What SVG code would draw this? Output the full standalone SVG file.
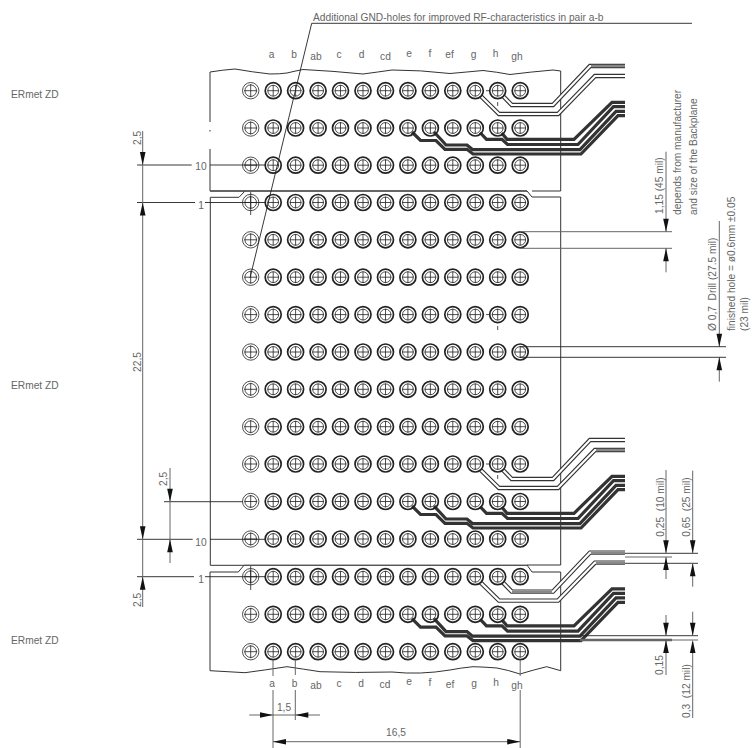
<svg xmlns="http://www.w3.org/2000/svg" width="754" height="748" viewBox="0 0 754 748">
<style>
text{font-family:"Liberation Sans",Arial,sans-serif;font-size:10.2px;fill:#666}
.m{text-anchor:middle}
.l{fill:none;stroke:#222;stroke-width:.9}
.g{fill:none;stroke:#666;stroke-width:1}
.o{fill:none;stroke:#333;stroke-width:1}
.t{fill:none;stroke:#222;stroke-width:1.7}
.i{fill:none;stroke:#222;stroke-width:.8}
.d{fill:none;stroke:#333;stroke-width:3.2;stroke-linejoin:miter}
.w1{fill:none;stroke:#333;stroke-width:4.4}
.w2{fill:none;stroke:#fff;stroke-width:2.2}
.w3{fill:none;stroke:#888;stroke-width:2.6}
.a{fill:#111}
</style>
<defs>
<g id="h0"><circle r="8.200" class="i"/><circle r="5.800" class="i"/><path d="M-6.500 0H6.500M0-6.500V6.500" class="i"/></g>
<g id="h1"><circle r="8" class="t"/><circle r="5.400" class="i"/><path d="M-5.800 0H5.800M0-5.800V5.800" class="i"/></g>
<g id="row">
<use href="#h0" x="250.700"/><use href="#h1" x="273.200"/><use href="#h1" x="295.600"/><use href="#h1" x="318.100"/><use href="#h1" x="340.500"/><use href="#h1" x="363"/><use href="#h1" x="385.500"/><use href="#h1" x="407.900"/><use href="#h1" x="430.400"/><use href="#h1" x="452.800"/><use href="#h1" x="475.300"/><use href="#h1" x="497.700"/><use href="#h1" x="520.200"/>
</g>
<g id="pale">
<path class="w1" d="M503 96L511.700 105H553L590 66H625"/><path class="w1" d="M480.700 96L499 114H558L595 76H625"/>
<path class="w2" d="M503 96L511.700 105H553L590 66H625"/><path class="w2" d="M480.700 96L499 114H558L595 76H625"/>
</g>
<g id="dark">
<path class="d" d="M501.700 133L507 139.300H574L612 102.300H625"/>
<path class="d" d="M480 132.500L486.500 139.300H502L507.500 144.500H578L613.500 106.700H625"/>
<path class="d" d="M434 132L441.500 140L446 145H467L472.500 149.600H580L616 111.300H625"/>
<path class="d" d="M412 132L420.500 140.500H436L445 149.300H467L473 154H581L618 115.700H625"/>
</g>
<path id="au" class="a" d="M0 0L-2.800 13H2.800Z"/>
<path id="ad" class="a" d="M0 0L-2.800-13H2.800Z"/>
<path id="al" class="a" d="M0 0L13-2.800V2.800Z"/>
<path id="ar" class="a" d="M0 0L-13-2.800V2.800Z"/>
</defs>
<rect width="754" height="748" fill="#fff"/>
<g id="board" class="o">
<path d="M210 122V72Q222 70 235 69Q252 72 270 74Q280 74 287 73Q295 71 303 69.500Q333 71 363 74Q378 72 392 70Q420 70 450 73.500Q467 72 483 70.500Q497 72 510 74.500Q530 72 553 70L560.700 71V191H532"/>
<path d="M210 130V131.500"/>
<path d="M210 149V191H527L532 197H560.700V565H527L532 572H560.700V670.700L546.700 666.700Q533 670 520 674Q508 670 497 668Q485 667 473 666.700Q460 668 450 670Q420 675 392 672Q355 673 320 671.700Q303 669 287 666.700Q265 670 245 672.700L210 670.700V572H238.300L244 565.300H527"/>
<path d="M244 565.300H210.300V197.300H239L245 191"/>
<path d="M210 191H527M244 565.300H527" stroke="#555" stroke-width="1.300"/>
</g>
<g id="traces">
<use href="#pale"/><use href="#pale" y="374"/><use href="#pale" y="486.600"/>
<use href="#dark"/><use href="#dark" y="374"/><use href="#dark" y="486.600"/>
<path class="w3" d="M591 66H625M596 450H625M591 553H625M512 592H552M596 563H625"/>
</g>
<g id="holes">
<use href="#row" y="90.700"/><use href="#row" y="128"/><use href="#row" y="165.200"/><use href="#row" y="202.500"/><use href="#row" y="239.800"/><use href="#row" y="277.200"/><use href="#row" y="314.600"/><use href="#row" y="352"/><use href="#row" y="389.300"/><use href="#row" y="426.700"/><use href="#row" y="464"/><use href="#row" y="501.500"/><use href="#row" y="539"/><use href="#row" y="576.700"/><use href="#row" y="614.300"/><use href="#row" y="651.700"/>
<path class="i" d="M250.700 192V215M250.700 566V590M497.700 102V106M497.700 326V330M497.700 475V479M486 90.700H489M486 314.600H489M486 464H489"/>
</g>
<g id="connectors">
<path class="l" d="M250 278L311.700 23.300H692"/>
<path class="l" d="M137 165H191.700M210 165H265M137 202.500H195M205 202.500H265M164 501.700H243M137 539.300H192.700M210 539.300H265M137 576.700H194M205 576.700H265"/>
<path class="g" d="M142.700 131V607M170 468V563"/>
<path class="g" d="M520 231.700H672M520 248.300H672M666 151.700V231.700M666 248.300V272.300M719.300 221V346.700M719.300 357.300V381.700"/>
<path class="l" d="M520 346.700H726M520 357.300H726M625 553.300H698M625 563.300H698M580 635.700H698"/>
<path class="g" d="M625 557H672M666 470V553M666 557V579M692.700 470.700V553M692.700 563.300V586.700M666 615V635.700M666 640V675M692.700 611.700V635.700M692.700 642V718M672 640H698"/>
<path d="M580 640H672" fill="none" stroke="#666" stroke-width="2.400"/>
<path class="g" d="M273 660V676M273 690V748M295.300 660V675M295.300 690V720M520.200 660V676M520.200 690V748M249.300 715H320M273 741.700H520"/>
<use href="#ad" x="142.700" y="165"/><use href="#au" x="142.700" y="202.500"/><use href="#ad" x="142.700" y="539.300"/><use href="#au" x="142.700" y="576.700"/>
<use href="#ad" x="170" y="501.700"/><use href="#au" x="170" y="539.300"/>
<use href="#ad" x="666" y="231.700"/><use href="#au" x="666" y="248.300"/>
<use href="#ad" x="719.300" y="346.700"/><use href="#au" x="719.300" y="357.300"/>
<use href="#ad" x="666" y="553.300"/><use href="#au" x="666" y="557"/><use href="#ad" x="692.700" y="553.300"/><use href="#au" x="692.700" y="563.300"/>
<use href="#ad" x="666" y="635.700"/><use href="#au" x="666" y="640"/><use href="#ad" x="692.700" y="635.700"/><use href="#au" x="692.700" y="640"/>
<use href="#ar" x="273" y="715"/><use href="#al" x="295.300" y="715"/><use href="#al" x="273" y="741.700"/><use href="#ar" x="520.200" y="741.700"/>
</g>
<g id="labels">
<text x="313" y="21">Additional GND-holes for improved RF-characteristics in pair a-b</text>
<text x="11" y="98">ERmet ZD</text><text x="11" y="389.300">ERmet ZD</text><text x="11" y="644">ERmet ZD</text>
<text class="m" x="201" y="170">10</text><text class="m" x="201" y="208.500">1</text><text class="m" x="201" y="546">10</text><text class="m" x="201" y="583">1</text>
<text class="m" x="271.500" y="58">a</text><text class="m" x="294" y="58">b</text><text class="m" x="316" y="60">ab</text><text class="m" x="339" y="58">c</text><text class="m" x="361.500" y="58">d</text><text class="m" x="385.500" y="60">cd</text><text class="m" x="409" y="57">e</text><text class="m" x="430" y="57">f</text><text class="m" x="449.500" y="58">ef</text><text class="m" x="473.500" y="58">g</text><text class="m" x="495.500" y="57">h</text><text class="m" x="517" y="60">gh</text>
<text class="m" x="272" y="687">a</text><text class="m" x="294.500" y="687">b</text><text class="m" x="316" y="689">ab</text><text class="m" x="339" y="687">c</text><text class="m" x="361" y="687">d</text><text class="m" x="385" y="688">cd</text><text class="m" x="409" y="685">e</text><text class="m" x="430" y="686">f</text><text class="m" x="450" y="688">ef</text><text class="m" x="474" y="687">g</text><text class="m" x="496" y="686">h</text><text class="m" x="517" y="689">gh</text>
<text class="m" x="284" y="711">1,5</text><text class="m" x="396" y="736">16,5</text>
<text transform="translate(141 145) rotate(-90)">2,5</text>
<text class="m" transform="translate(141 362) rotate(-90)">22,5</text>
<text transform="translate(167 486) rotate(-90)">2,5</text>
<text transform="translate(141 607) rotate(-90)">2,5</text>
<text transform="translate(662.500 214) rotate(-90)">1,15 (45 mil)</text>
<text transform="translate(680.500 215) rotate(-90)">depends from manufacturer</text>
<text transform="translate(697 215) rotate(-90)">and size of the Backplane</text>
<text transform="translate(716 331) rotate(-90)" xml:space="preserve">Ø 0,7  Drill (27.5 mil)</text>
<text transform="translate(735 331) rotate(-90)">finished hole = ø0.6mm ±0.05</text>
<text transform="translate(748 331) rotate(-90)">(23 mil)</text>
<text transform="translate(664 536.700) rotate(-90)" xml:space="preserve">0,25  (10 mil)</text>
<text transform="translate(690 536.700) rotate(-90)" xml:space="preserve">0,65  (25 mil)</text>
<text transform="translate(662.500 675) rotate(-90)">0,15</text>
<text transform="translate(690 718) rotate(-90)" xml:space="preserve">0,3  (12 mil)</text>
</g>
</svg>
